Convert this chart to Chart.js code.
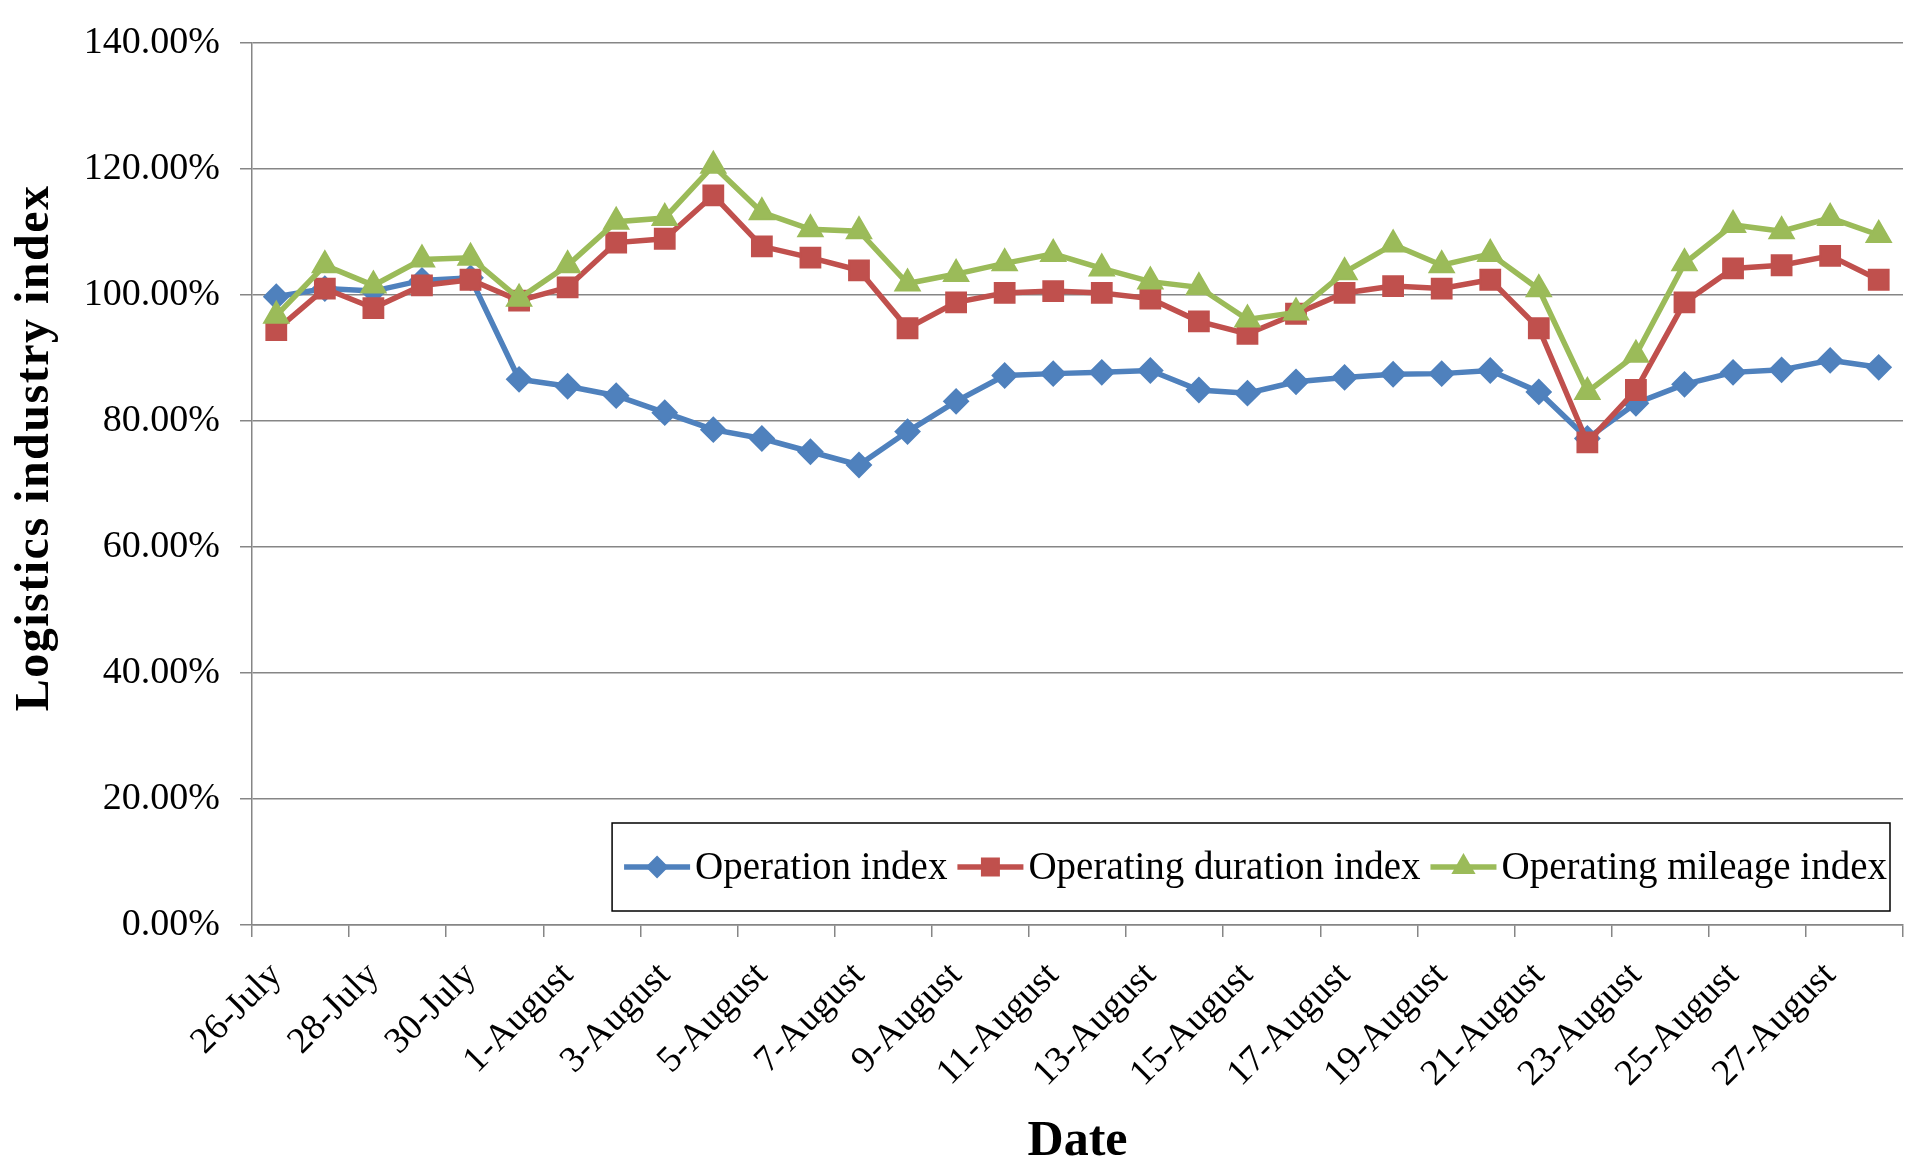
<!DOCTYPE html>
<html>
<head>
<meta charset="utf-8">
<script src="https://cdn.jsdelivr.net/npm/chart.js@4.4.0/dist/chart.umd.min.js"></script>
<style>
  html, body { margin: 0; padding: 0; background: #fff; }
  #wrap { width: 1930px; height: 1174px; position: relative; }
</style>
</head>
<body>
<div id="wrap"><canvas id="myChart"></canvas></div>
<script>
// 26 July .. 28 August
const dates = [
  "26-July", "27-July", "28-July", "29-July", "30-July", "31-July",
  "1-August", "2-August", "3-August", "4-August", "5-August", "6-August",
  "7-August", "8-August", "9-August", "10-August", "11-August", "12-August",
  "13-August", "14-August", "15-August", "16-August", "17-August", "18-August",
  "19-August", "20-August", "21-August", "22-August", "23-August", "24-August",
  "25-August", "26-August", "27-August", "28-August"
];

// values in percent
const operationIndex = [
  99.7, 101.0, 100.6, 102.3, 102.7, 86.6, 85.5, 84.0, 81.3, 78.6,
  77.2, 75.1, 73.0, 78.3, 83.1, 87.2, 87.5, 87.7, 88.0, 84.9,
  84.4, 86.2, 86.9, 87.4, 87.5, 88.0, 84.6, 77.2, 82.8, 85.8,
  87.7, 88.1, 89.6, 88.5
];
const durationIndex = [
  94.4, 101.0, 97.9, 101.5, 102.4, 99.1, 101.2, 108.3, 108.9, 115.8,
  107.7, 105.9, 103.9, 94.7, 98.8, 100.3, 100.6, 100.3, 99.4, 95.8,
  93.8, 97.0, 100.3, 101.4, 101.0, 102.4, 94.7, 76.6, 84.9, 98.8,
  104.2, 104.7, 106.2, 102.4
];
const mileageIndex = [
  96.7, 104.7, 101.5, 105.6, 105.9, 99.4, 104.7, 111.6, 112.2, 120.5,
  113.1, 110.4, 110.1, 101.8, 103.3, 105.0, 106.5, 104.2, 102.1, 101.2,
  96.1, 97.2, 103.6, 108.0, 104.7, 106.5, 100.9, 84.6, 90.5, 105.0,
  111.1, 110.1, 112.2, 109.5
];

const seriesNames = ["Operation index", "Operating duration index", "Operating mileage index"];
const seriesColors = ["#4F81BD", "#C0504D", "#9BBB59"];
const yTitle = "Logistics industry index";

const FONT = '"Liberation Serif", "Times New Roman", serif';
const GRID = "#868686";

const markers = [
  {pointStyle: "rectRot", radius: 12},
  {pointStyle: "rect", radius: 14},
  {pointStyle: "triangle", radius: 14}
];

// y title drawn by hand so it can sit a bit above the axis centre, as in the original
const yTitlePlugin = {
  id: "yTitlePlugin",
  afterDraw(chart) {
    const ctx = chart.ctx;
    const area = chart.chartArea;
    ctx.save();
    ctx.translate(36, (area.top + area.bottom) / 2 - 36);
    ctx.rotate(-Math.PI / 2);
    ctx.font = "bold 48px " + FONT;
    ctx.letterSpacing = "1.5px";
    ctx.fillStyle = "#000";
    ctx.textAlign = "center";
    ctx.textBaseline = "middle";
    ctx.fillText(yTitle, 0, 0);
    ctx.restore();
  }
};

// legend drawn as a framed box inside the plot, like the original
const boxLegend = {
  id: "boxLegend",
  afterDatasetsDraw(chart) {
    const ctx = chart.ctx;
    const area = chart.chartArea;
    const sets = chart.data.datasets;
    const lineLen = 66, gapIn = 5, gapOut = 10, padL = 12, padR = 3, h = 88;
    ctx.save();
    ctx.font = "39px " + FONT;
    let total = padL + padR;
    sets.forEach((ds, i) => {
      total += lineLen + gapIn + ctx.measureText(ds.label).width + (i < sets.length - 1 ? gapOut : 0);
    });
    const right = area.right - 13, bottom = area.bottom - 14;
    const left = right - total, top = bottom - h;
    ctx.fillStyle = "#fff";
    ctx.fillRect(left, top, total, h);
    ctx.strokeStyle = "#000";
    ctx.lineWidth = 1.5;
    ctx.strokeRect(left, top, total, h);

    const cy = top + h / 2;
    let x = left + padL;
    sets.forEach((ds, i) => {
      ctx.strokeStyle = ds.borderColor;
      ctx.fillStyle = ds.borderColor;
      ctx.lineWidth = 5.5;
      ctx.beginPath();
      ctx.moveTo(x, cy);
      ctx.lineTo(x + lineLen, cy);
      ctx.stroke();
      ctx.lineWidth = 2;
      Chart.helpers.drawPoint(ctx, {
        pointStyle: ds.pointStyle, radius: ds.pointRadius - 2, borderWidth: 2, rotation: 0
      }, x + lineLen / 2, cy);
      x += lineLen + gapIn;
      ctx.fillStyle = "#000";
      ctx.textBaseline = "middle";
      ctx.textAlign = "left";
      ctx.fillText(ds.label, x, cy + 2);
      x += ctx.measureText(ds.label).width + gapOut;
    });
    ctx.restore();
  }
};

const makeSet = (i, data) => ({
  label: seriesNames[i],
  data: data,
  borderColor: seriesColors[i],
  backgroundColor: seriesColors[i],
  borderWidth: 5.5,
  tension: 0,
  pointStyle: markers[i].pointStyle,
  pointRadius: markers[i].radius,
  pointBorderWidth: 2,
  pointBackgroundColor: seriesColors[i],
  pointBorderColor: seriesColors[i],
  order: 3 - i
});

const chart = new Chart("myChart", {
  type: "line",
  data: {
    labels: dates,
    datasets: [
      makeSet(0, operationIndex),
      makeSet(1, durationIndex),
      makeSet(2, mileageIndex)
    ]
  },
  plugins: [boxLegend, yTitlePlugin],
  options: {
    responsive: true,
    maintainAspectRatio: false,
    animation: false,
    layout: {padding: {left: 6, right: 27, top: 40, bottom: 2}},
    plugins: {
      legend: {display: false},
      tooltip: {enabled: false}
    },
    scales: {
      x: {
        offset: true,
        grid: {
          offset: true,
          drawOnChartArea: false,
          drawTicks: true,
          tickLength: 12,
          lineWidth: 1.5,
          // tick marks only every second day
          color: c => (c.index === undefined || c.index % 2 === 0) ? GRID : "rgba(0,0,0,0)"
        },
        border: {color: GRID, width: 1.5},
        ticks: {
          autoSkip: false,
          maxRotation: 45,
          minRotation: 45,
          padding: 17,
          color: "#000",
          font: {family: FONT, size: 37},
          callback: function(val, index) {
            return index % 2 === 0 ? this.getLabelForValue(val) : "";
          }
        },
        title: {
          display: true,
          text: "Date",
          color: "#000",
          font: {family: FONT, size: 50, weight: "bold"},
          padding: {top: 0, bottom: 0}
        },
        afterFit: s => { s.height = 247; }
      },
      y: {
        min: 0,
        max: 140,
        grid: {color: GRID, lineWidth: 1.5, tickLength: 12},
        border: {color: GRID, width: 1.5},
        ticks: {
          stepSize: 20,
          padding: 20,
          color: "#000",
          font: {family: FONT, size: 38},
          callback: v => v.toFixed(2) + "%"
        },
        afterFit: s => { s.width = 246; }
      }
    }
  }
});
</script>
</body>
</html>
